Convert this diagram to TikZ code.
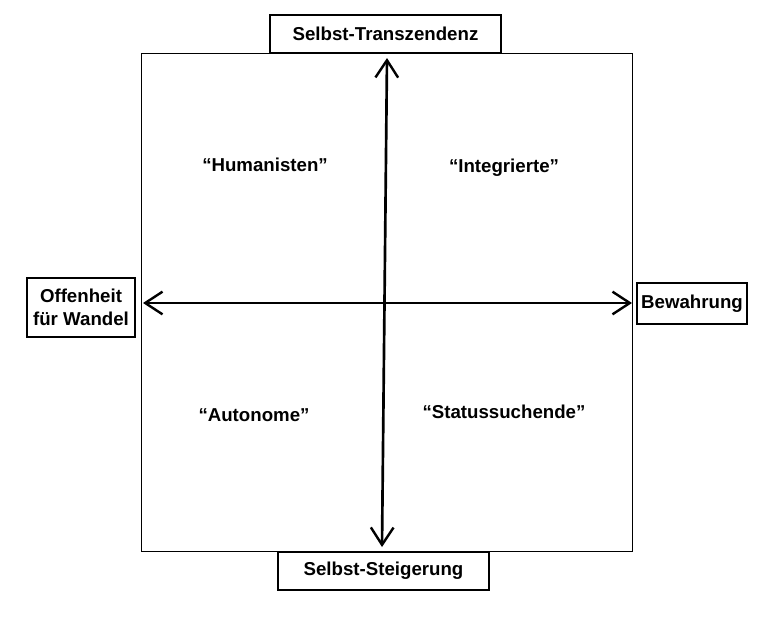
\documentclass[tikz,border=0pt]{standalone}
\usepackage{fontspec}
\setmainfont{Liberation Sans}
\usetikzlibrary{arrows.meta}
\begin{document}
\begin{tikzpicture}[x=0.75pt,y=-0.75pt,
  lbl/.style={draw=black,line width=1.5pt,fill=white,font=\fontsize{14}{17}\selectfont\bfseries,align=center,inner sep=0pt},
  quad/.style={font=\fontsize{14}{16}\selectfont\bfseries},
  axis/.style={line width=2pt,{Straight Barb[length=13pt,width=17pt,line width=1.8pt]}-{Straight Barb[length=13pt,width=17pt,line width=1.8pt]}}]
\useasboundingbox (0,0) rectangle (758,622);
\draw[line width=0.8pt] (141.5,53.5) rectangle (632.5,551.5);
\node[lbl,minimum width=231*0.75pt,minimum height=38*0.75pt] (T) at (385.5,34) {Selbst-Transzendenz};
\node[lbl,minimum width=211*0.75pt,minimum height=38*0.75pt] (B) at (383.5,571) {Selbst-Steigerung};
\node[lbl,minimum width=108*0.75pt,minimum height=59*0.75pt] (L) at (81,307.5) {Offenheit\\für Wandel};
\node[lbl,minimum width=110*0.75pt,minimum height=41*0.75pt] (R) at (692,303.5) {Bewahrung};
\coordinate (vt) at (387,58);
\coordinate (vb) at (382,547);
\coordinate (hl) at (143,303);
\coordinate (hr) at (632,303);
\draw[axis] (vt) -- (vb);
\draw[axis] (hl) -- (hr);
\node[quad] (q1) at (265,165) {“Humanisten”};
\node[quad] (q2) at (504,168) {“Integrierte”};
\node[quad] (q3) at (254,415) {“Autonome”};
\node[quad] (q4) at (504,412) {“Statussuchende”};
\end{tikzpicture}
\end{document}
